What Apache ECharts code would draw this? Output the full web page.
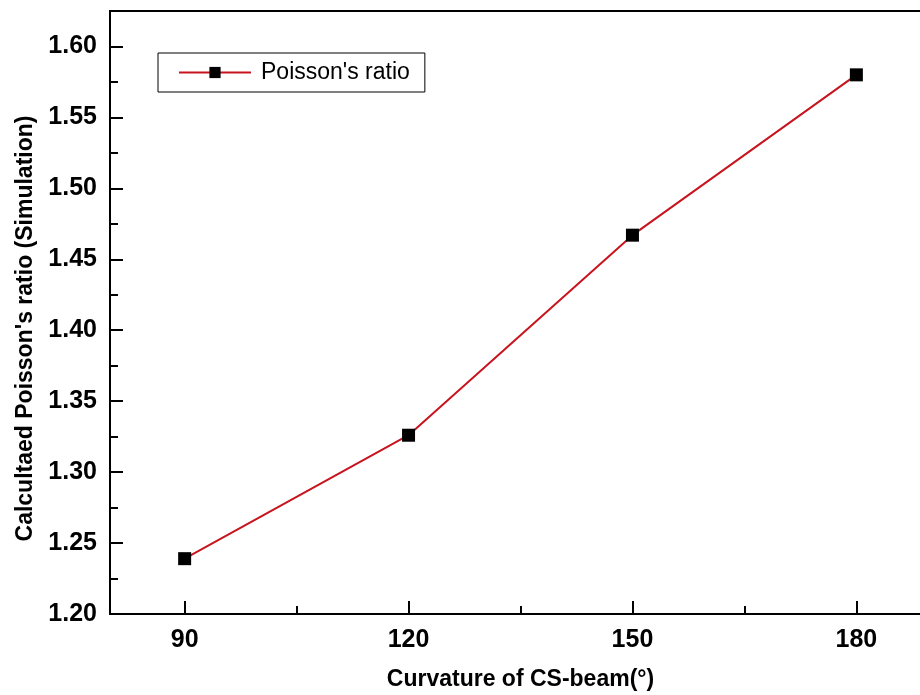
<!DOCTYPE html>
<html>
<head>
<meta charset="utf-8">
<script src="https://cdn.jsdelivr.net/npm/echarts@6/dist/echarts.min.js"></script>
<style>
  html, body { margin: 0; padding: 0; background: #fff; }
  #chart { width: 920px; height: 695px; }
</style>
</head>
<body>
<div id="chart"></div>
<script>
// data
var curvature = [90, 120, 150, 180];
var poissonRatio = [1.239, 1.326, 1.467, 1.580];
var xMajorTicks = [90, 120, 150, 180];
var xMinorTicks = [105, 135, 165];
var yMajorTicks = [1.20, 1.25, 1.30, 1.35, 1.40, 1.45, 1.50, 1.55, 1.60];
var yMinorTicks = [1.225, 1.275, 1.325, 1.375, 1.425, 1.475, 1.525, 1.575];

var chart = echarts.init(document.getElementById("chart"));

var font = "Liberation Sans, Arial, sans-serif";
var pts = curvature.map(function (c, i) { return [c, poissonRatio[i]]; });

var option = {
  animation: false,
  grid: {
    left: 110,
    top: 11,
    width: 821,
    height: 603,
    outerBoundsMode: "none",
    containLabel: false,
    show: true,
    borderColor: "#000",
    borderWidth: 2
  },
  legend: {
    left: 158,
    top: 53,
    orient: "vertical",
    borderColor: "#000",
    borderWidth: 1,
    padding: [8, 15, 8, 20],
    itemWidth: 72,
    itemHeight: 14,
    itemGap: 8,
    textStyle: { fontFamily: font, fontSize: 23, color: "#000", padding: [0, 0, 0, 5] },
    data: ["Poisson's ratio"]
  },
  xAxis: [
    {
      type: "value",
      min: 80,
      max: 190,
      name: "Curvature of CS-beam(°)",
      nameLocation: "middle",
      nameGap: 54,
      nameTextStyle: { fontFamily: font, fontSize: 23, fontWeight: "bold", color: "#000" },
      splitLine: { show: false },
      axisLine: { lineStyle: { color: "#000", width: 2 } },
      axisTick: { inside: true, length: 13, lineStyle: { color: "#000", width: 2 }, customValues: xMajorTicks },
      axisLabel: { margin: 14, fontFamily: font, fontSize: 25, fontWeight: "bold", color: "#000", customValues: xMajorTicks }
    },
    {
      type: "value",
      min: 80,
      max: 190,
      position: "bottom",
      splitLine: { show: false },
      axisLine: { show: false },
      axisTick: { inside: true, length: 8, lineStyle: { color: "#000", width: 2 }, customValues: xMinorTicks },
      axisLabel: { show: false }
    }
  ],
  yAxis: [
    {
      type: "value",
      min: 1.2,
      max: 1.625,
      name: "Calcultaed Poisson's ratio (Simulation)",
      nameLocation: "middle",
      nameGap: 72,
      nameTextStyle: {
        fontFamily: font, fontSize: 23, fontWeight: "bold", color: "#000",
        padding: [0, 32, 0, 0]
      },
      splitLine: { show: false },
      axisLine: { lineStyle: { color: "#000", width: 2 } },
      axisTick: { inside: true, length: 13, lineStyle: { color: "#000", width: 2 }, customValues: yMajorTicks },
      axisLabel: {
        margin: 13,
        fontFamily: font, fontSize: 25, fontWeight: "bold", color: "#000",
        customValues: yMajorTicks,
        formatter: function (v) { return v.toFixed(2); }
      }
    },
    {
      type: "value",
      min: 1.2,
      max: 1.625,
      position: "left",
      splitLine: { show: false },
      axisLine: { show: false },
      axisTick: { inside: true, length: 8, lineStyle: { color: "#000", width: 2 }, customValues: yMinorTicks },
      axisLabel: { show: false }
    }
  ],
  series: [
    {
      name: "Poisson's ratio",
      type: "line",
      xAxisIndex: 0,
      yAxisIndex: 0,
      data: pts,
      symbol: "rect",
      symbolSize: 13,
      itemStyle: { color: "#000" },
      lineStyle: { color: "#c8141e", width: 2 },
      z: 3
    }
  ]
};

chart.setOption(option);
</script>
</body>
</html>
